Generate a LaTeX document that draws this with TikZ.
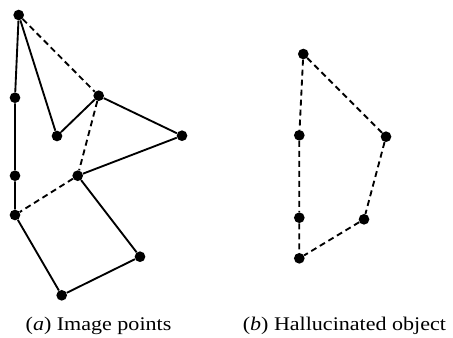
\documentclass[tikz,border=0pt]{standalone}
\usepackage{fontspec}
\setmainfont{Liberation Serif}
\begin{document}
\begin{tikzpicture}[x=0.75pt,y=-0.75pt,
  vertex/.style={circle,fill=black,inner sep=0pt,minimum size=8pt},
  edge/.style={line width=1.4pt},
  hidden/.style={line width=1.4pt,dash pattern=on 4.5pt off 3pt},
  caption/.style={anchor=base,inner sep=0pt,font=\fontsize{14.5pt}{16pt}\selectfont}]
\useasboundingbox (0,0) rectangle (453,337);

% (a) image points
\node[vertex] (A) at (18.7,15) {};
\node[vertex] (B) at (15,97.7) {};
\node[vertex] (C) at (15,175.7) {};
\node[vertex] (D) at (15,215) {};
\node[vertex] (E) at (57,136) {};
\node[vertex] (F) at (98.7,95.7) {};
\node[vertex] (G) at (182,135.7) {};
\node[vertex] (H) at (77.7,175.7) {};
\node[vertex] (I) at (140,256.7) {};
\node[vertex] (J) at (61.7,295.3) {};

\draw[edge] (A) -- (B) -- (C) -- (D);
\draw[edge] (A) -- (E) -- (F) -- (G) -- (H) -- (I) -- (J) -- (D);
\draw[hidden] (A) -- (F);
\draw[hidden] (F) -- (H);
\draw[hidden] (H) -- (D);

% (b) hallucinated object
\node[vertex] (P) at (303.3,54) {};
\node[vertex] (Q) at (299.3,135.3) {};
\node[vertex] (R) at (386,136.7) {};
\node[vertex] (S) at (299.3,217.7) {};
\node[vertex] (T) at (364,219.3) {};
\node[vertex] (U) at (299.3,258.3) {};

\draw[hidden] (P) -- (Q) -- (S) -- (U);
\draw[hidden] (P) -- (R) -- (T) -- (U);

% captions
\node[caption] (capa) at (98.5,330) {\scalebox{1.14}[1]{(\textit{a}) Image points}};
\node[caption] (capb) at (344.4,330) {\scalebox{1.14}[1]{(\textit{b}) Hallucinated object}};
\end{tikzpicture}
\end{document}
